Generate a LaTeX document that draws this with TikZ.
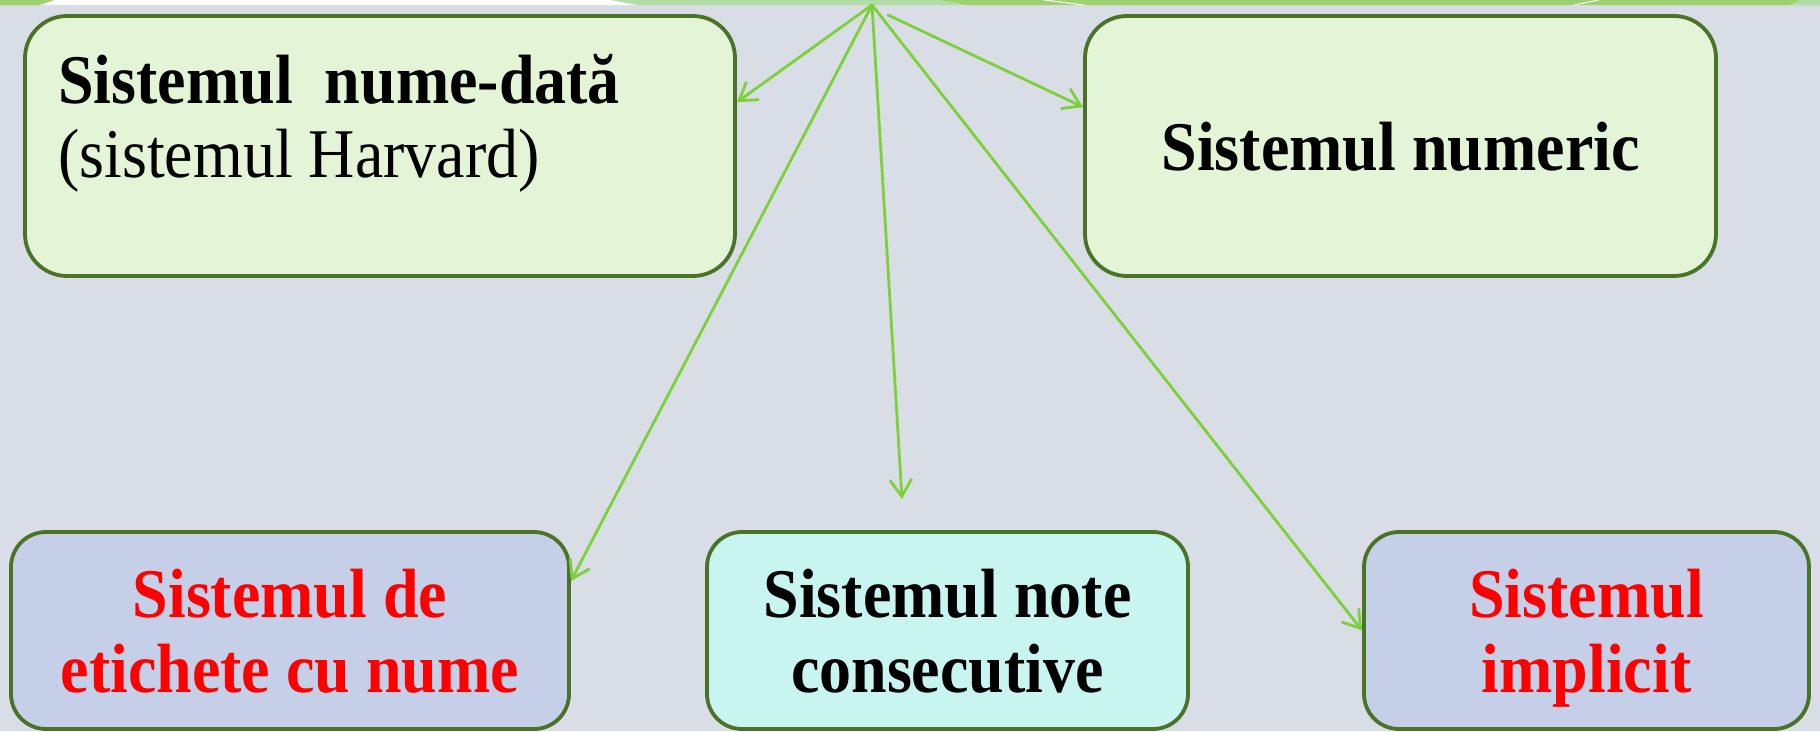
\documentclass[tikz,border=0pt]{standalone}
\usepackage{fontspec}
\usepackage{graphicx}
\setmainfont{Liberation Serif}
\usetikzlibrary{arrows.meta}
\definecolor{bgc}{HTML}{D9DEE6}
\definecolor{bord}{HTML}{4A7328}
\definecolor{arr}{HTML}{7ED03A}
\definecolor{lgreen}{HTML}{E3F4D7}
\definecolor{lblue}{HTML}{C5D0E8}
\definecolor{lcyan}{HTML}{C8F5F0}
\definecolor{stripA}{HTML}{9CD16E}
\definecolor{stripB}{HTML}{B3DCA4}
\definecolor{redtxt}{HTML}{FF0000}
\newcommand{\tallt}[1]{\scalebox{1}[1.09]{#1}}
\begin{document}
\begin{tikzpicture}[x=1pt,y=-1pt,
  box/.style={draw=bord, line width=3.8pt, rounded corners=#1, inner sep=0pt},
  txt/.style={font=\fontsize{64}{72}\selectfont, inner sep=0pt},
  conn/.style={draw=arr, line width=2.8pt, line cap=round,
    -{Straight Barb[length=17pt,width=22pt]}}]
% background and margins
\useasboundingbox (0,0) rectangle (1820,731);
\fill[bgc] (0,0) rectangle (1820,731);
% top strip
\fill[stripA] (0,0) -- (55,0) -- (40,5) -- (0,5) -- cycle;
\fill[white] (55,0) -- (611,0) -- (638,5) -- (40,5) -- cycle;
\fill[stripB] (611,0) -- (940,0) -- (967,5) -- (638,5) -- cycle;
\fill[stripA] (940,0) -- (1820,0) -- (1820,5) -- (967,5) -- cycle;
\fill[stripB] (1800,0) -- (1820,0) -- (1820,5) -- (1790,5) -- cycle;
\draw[white, line width=1pt] (1044,0) -- (1084,5);
\draw[white, line width=1pt] (1599,0) -- (1574,5);
% boxes
\node[box=42pt, fill=lgreen, minimum width=710pt, minimum height=260pt] (b1) at (380,146) {};
\node[box=42pt, fill=lgreen, minimum width=631pt, minimum height=260pt] (b2) at (1400.5,146) {};
\node[box=35pt, fill=lblue, minimum width=558pt, minimum height=197pt] (b3) at (290,630.5) {};
\node[box=35pt, fill=lcyan, minimum width=481pt, minimum height=197pt] (b4) at (947.5,630.5) {};
\node[box=35pt, fill=lblue, minimum width=445pt, minimum height=197pt] (b5) at (1586.5,630.5) {};
% texts
\node[txt, anchor=base west] (t1a) at (58,103) {\tallt{\bfseries Sistemul\ \ nume-dată}};
\node[txt, anchor=base west] (t1b) at (58,177) {\tallt{(sistemul Harvard)}};
\node[txt, anchor=base] (t2) at (1400.5,170) {\tallt{\bfseries Sistemul numeric}};
\node[txt, anchor=base, text=redtxt] (t3a) at (290,617) {\tallt{\bfseries Sistemul de}};
\node[txt, anchor=base, text=redtxt] (t3b) at (290,692) {\tallt{\bfseries etichete cu nume}};
\node[txt, anchor=base] (t4a) at (947.5,617) {\tallt{\bfseries Sistemul note}};
\node[txt, anchor=base] (t4b) at (947.5,692) {\tallt{\bfseries consecutive}};
\node[txt, anchor=base, text=redtxt] (t5a) at (1586.5,617) {\tallt{\bfseries Sistemul}};
\node[txt, anchor=base, text=redtxt] (t5b) at (1586.5,692) {\tallt{\bfseries implicit}};
% connectors
\coordinate (apex) at (872,5);
\coordinate (s2) at (888,15);
\coordinate (down) at (902,499);
\draw[conn] (apex) -- (b1.7.7);
\draw[conn] (s2) -- (b2.173.6);
\draw[conn] (apex) -- (b3.10.8);
\draw[conn] (apex) -- (down);
\draw[conn] (apex) -- (b5.west);
\end{tikzpicture}
\end{document}
